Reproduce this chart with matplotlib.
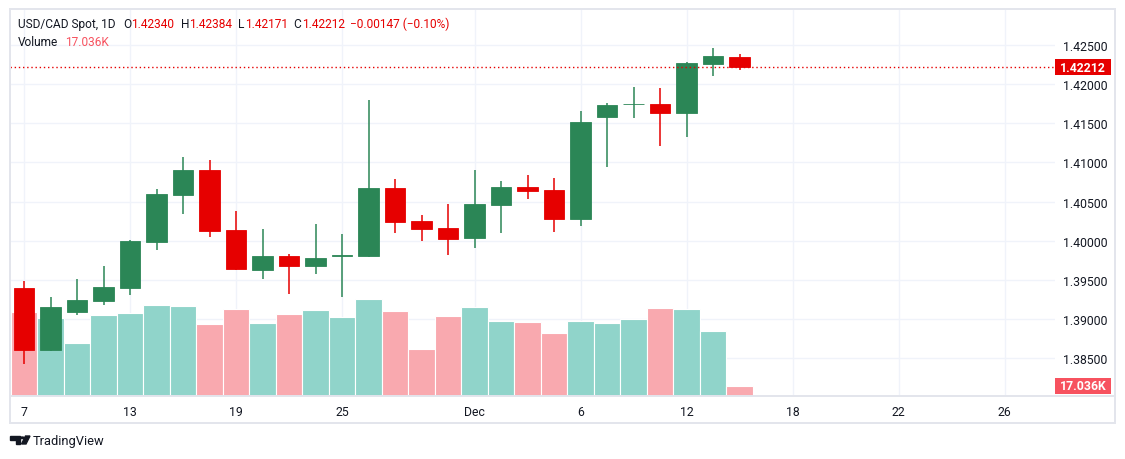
import numpy as np
import pandas as pd
import matplotlib
matplotlib.use("Agg")
import matplotlib.pyplot as plt
from matplotlib.patches import Polygon, Circle, Rectangle
from matplotlib.lines import Line2D
from matplotlib.transforms import IdentityTransform

W, H = 1125, 460

# daily bars, USD/CAD spot
dates = ["2024-11-07", "2024-11-08", "2024-11-11", "2024-11-12", "2024-11-13",
         "2024-11-14", "2024-11-15", "2024-11-18", "2024-11-19", "2024-11-20",
         "2024-11-21", "2024-11-22", "2024-11-25", "2024-11-26", "2024-11-27",
         "2024-11-28", "2024-11-29", "2024-12-02", "2024-12-03", "2024-12-04",
         "2024-12-05", "2024-12-06", "2024-12-09", "2024-12-10", "2024-12-11",
         "2024-12-12", "2024-12-13", "2024-12-16"]
opens = [1.39397, 1.38606, 1.39091, 1.39231, 1.39397, 1.39983, 1.40583, 1.40902,
         1.40136, 1.39626, 1.39805, 1.39677, 1.39805, 1.39805, 1.40673, 1.40251,
         1.40162, 1.40034, 1.40455, 1.40685, 1.40647, 1.40277, 1.41577, 1.41738,
         1.41743, 1.41628, 1.42254, 1.42340]
highs = [1.39486, 1.39282, 1.39511, 1.39677, 1.40009, 1.40660, 1.41068, 1.41029,
         1.40379, 1.40149, 1.39830, 1.40213, 1.40085, 1.41794, 1.40787, 1.40328,
         1.40468, 1.40902, 1.40761, 1.40838, 1.40800, 1.41654, 1.41756, 1.41960,
         1.41947, 1.42279, 1.42458, 1.42384]
lows = [1.38427, 1.38594, 1.39052, 1.39180, 1.39308, 1.39881, 1.40341, 1.40047,
        1.39626, 1.39511, 1.39320, 1.39575, 1.39282, 1.39793, 1.40098, 1.39996,
        1.39818, 1.39907, 1.40098, 1.40532, 1.40111, 1.40187, 1.40940, 1.41564,
        1.41208, 1.41322, 1.42100, 1.42171]
closes = [1.38606, 1.39154, 1.39244, 1.39409, 1.39996, 1.40596, 1.40902, 1.40124,
          1.39639, 1.39805, 1.39677, 1.39780, 1.39818, 1.40673, 1.40239, 1.40149,
          1.40022, 1.40468, 1.40685, 1.40634, 1.40277, 1.41513, 1.41730, 1.41750,
          1.41628, 1.42266, 1.42359, 1.42212]
vol_k = [143.1, 132.9, 90.3, 138.0, 141.4, 155.0, 153.3, 122.7, 148.2, 124.4,
         139.7, 146.5, 134.6, 165.2, 144.8, 80.1, 136.3, 151.6, 127.8, 126.1,
         107.3, 127.8, 124.4, 131.2, 149.9, 148.2, 110.7, 17.036]

tick_days = ["2024-11-07", "2024-11-13", "2024-11-19", "2024-11-25", "2024-12-02",
             "2024-12-06", "2024-12-12", "2024-12-18", "2024-12-22", "2024-12-26"]
tick_text = ["7", "13", "19", "25", "Dec", "6", "12", "18", "22", "26"]
price_ticks = [1.385, 1.390, 1.395, 1.400, 1.405, 1.410, 1.415, 1.420, 1.425]

up, down = "#2b8656", "#e60000"
vol_up, vol_down = "#90d4ca", "#f9a9af"
grid_c, frame_c, txt_c = "#f0f3fa", "#e3e5ec", "#131722"
plt.rcParams['font.family'] = ['Roboto', 'DejaVu Sans']

o, hi, lo, c = map(np.array, (opens, highs, lows, closes))
x = np.arange(len(dates))
is_up = c >= o

# x position of any date: bar index, or calendar days past the last bar
d_idx = pd.to_datetime(dates)
def xpos(d):
    d = pd.Timestamp(d)
    if d in d_idx:
        return int(np.where(d_idx == d)[0][0])
    return len(dates) - 1 + (d - d_idx[-1]).days

def fx(px):
    return px / W

def fy(py):
    return 1 - py / H

fig = plt.figure(figsize=(W / 100, H / 100), dpi=100)
pos = [fx(10), fy(397), fx(1045), 387 / H]
ax = fig.add_axes(pos)
ax_vol = fig.add_axes(pos, sharex=ax)
ax_c = fig.add_axes(pos, sharex=ax, sharey=ax)
for a in (ax_vol, ax_c):
    a.patch.set_visible(False)
    a.tick_params(left=False, right=False, bottom=False, labelleft=False,
                  labelright=False, labelbottom=False)
for a in (ax, ax_vol, ax_c):
    for s in a.spines.values():
        s.set_visible(False)

ax.set_xlim(-0.53, 38.9)
ax.set_ylim(1.380191, 1.429554)
ax.set_xticks([xpos(d) for d in tick_days])
ax.set_xticklabels(tick_text)
ax.set_yticks(price_ticks)
ax.set_yticklabels([f"{p:.5f}" for p in price_ticks])
ax.yaxis.tick_right()
ax.tick_params(axis='both', length=0, labelsize=8.8, labelcolor=txt_c)
ax.tick_params(axis='x', pad=6.5)
ax.tick_params(axis='y', pad=5.8)
ax.grid(True, color=grid_c, lw=1)

# volume
ax_vol.set_ylim(0, 387 * 1.7036)
ax_vol.bar(x, vol_k, width=1.0, color=np.where(is_up, vol_up, vol_down),
           edgecolor="white", linewidth=0.8)

# candles
col = np.where(is_up, up, down)
ax_c.vlines(x, lo, hi, colors=col, lw=1.1)
ax_c.bar(x, np.abs(c - o), bottom=np.minimum(o, c), width=0.77, color=col,
         edgecolor=col, linewidth=0.6)
ax_c.axhline(c[-1], color=down, lw=1, ls=(0, (1, 2)))

# last value tags on the price scale
def tag(a, yval, text, color):
    yd = a.transData.transform((0, yval))[1]
    fig.patches.append(Rectangle((1055, yd - 8), 56, 16, transform=IdentityTransform(),
                                 facecolor=color, edgecolor="none", figure=fig))
    fig.text(fx(1083), yd / H, text, color="white", fontsize=8.8, fontweight="bold",
             ha="center", va="center")

tag(ax, c[-1], f"{c[-1]:.5f}", down)
tag(ax_vol, vol_k[-1], f"{vol_k[-1]:.3f}K", "#f7525f")

# frame
for (x0, y0, x1, y1) in [(10, 10, 1115, 10), (10, 424, 1115, 424), (10, 10, 10, 424),
                         (1115, 10, 1115, 424), (10, 397, 1115, 397)]:
    fig.add_artist(Line2D([fx(x0), fx(x1)], [fy(y0), fy(y1)], color=frame_c, lw=1.4))

# legend header
chg = c[-1] - c[-2]
segs = [("USD/CAD Spot, 1D", 18, txt_c), ("O", 123, txt_c), (f"{o[-1]:.5f}", 131, down),
        ("H", 181, txt_c), (f"{hi[-1]:.5f}", 189, down), ("L", 238, txt_c),
        (f"{lo[-1]:.5f}", 245, down), ("C", 293, txt_c), (f"{c[-1]:.5f}", 302, down),
        (f"\u2212{abs(chg):.5f} (\u2212{abs(chg) / c[-2] * 100:.2f}%)", 350, down)]
for t, px, cc in segs:
    fig.text(fx(px), fy(24.5), t, color=cc, fontsize=8.6, va="center")
fig.text(fx(18), fy(42), "Volume", color=txt_c, fontsize=8.6, va="center")
fig.text(fx(65), fy(42), f"{vol_k[-1]:.3f}K", color="#f7525f", fontsize=8.6, va="center")

# TradingView logo
def pts(p):
    return [(fx(a), fy(b)) for a, b in p]
fig.add_artist(Polygon(pts([(10, 437), (20, 437), (20, 445), (15.5, 445), (15.5, 440.5), (10, 440.5)]),
                       closed=True, color=txt_c, transform=fig.transFigure))
fig.add_artist(Circle((fx(22.3), fy(438.8)), 1.9 / W, color=txt_c, transform=fig.transFigure))
fig.add_artist(Polygon(pts([(25.5, 437), (30, 437), (26, 445), (21.5, 445)]),
                       closed=True, color=txt_c, transform=fig.transFigure))
fig.text(fx(33), fy(441.5), "TradingView", color=txt_c, fontsize=9.3, va="center")

fig.savefig("out.png", dpi=100, facecolor="white")
